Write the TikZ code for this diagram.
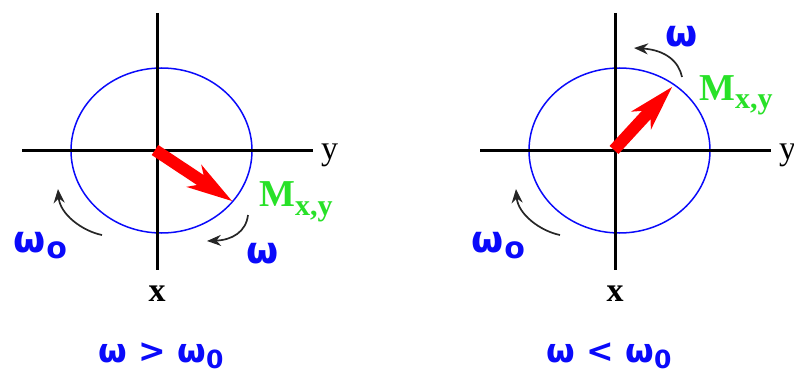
\documentclass[tikz,border=0pt]{standalone}
\usepackage{fontspec}
\setmainfont{Liberation Serif}
\newfontfamily\wfont{DejaVu Sans}
\usetikzlibrary{arrows.meta,calc}
\definecolor{mgreen}{RGB}{40,225,40}
\definecolor{wblue}{RGB}{10,10,250}
\tikzset{
  axis/.style={line width=3pt, black},
  orbit/.style={draw=wblue, line width=1.5pt},
  rot/.style={-{Stealth[length=14pt,width=11pt]}, line width=1.7pt, black!85},
  wlabel/.style={text=wblue, font=\wfont\bfseries\fontsize{37}{40}\selectfont, inner sep=0pt, anchor=base west},
  blabel/.style={text=wblue, font=\wfont\bfseries\fontsize{33}{36}\selectfont, inner sep=0pt, anchor=base west},
  mlabel/.style={text=mgreen, font=\bfseries\fontsize{38}{40}\selectfont, inner sep=0pt, anchor=base west},
  axlabel/.style={font=\fontsize{34}{40}\selectfont, inner sep=0pt},
}
\newcommand{\magarrow}[2]{%
  \fill[red] ($(#1)!6pt!90:(#2)$) -- ($(#2)!38pt!(#1)!6pt!90:(#2)$)
    -- ($(#2)!46pt!(#1)!13.5pt!90:(#2)$) -- (#2)
    -- ($(#2)!46pt!(#1)!13.5pt!-90:(#2)$) -- ($(#2)!38pt!(#1)!6pt!-90:(#2)$)
    -- ($(#1)!6pt!-90:(#2)$) -- cycle;}
\begin{document}
\begin{tikzpicture}[x=1pt, y=-1pt]
\useasboundingbox (0,0) rectangle (794,374);
\clip (0,0) rectangle (794,374);
% ---------- left panel ----------
\coordinate (L-vt) at (157,13);  \coordinate (L-vb) at (157,270);
\coordinate (L-hl) at (22,151);  \coordinate (L-hr) at (313,151);
\coordinate (L-c) at (161.5,150.5);
\draw[orbit] (L-c) ellipse [x radius=90.5pt, y radius=82.5pt];
\draw[axis] (L-vt) -- (L-vb);
\draw[axis] (L-hl) -- (L-hr);
\node[axlabel, anchor=base west] (L-y) at (321,160) {y};
\node[axlabel, anchor=base, font=\bfseries\fontsize{34}{40}\selectfont] (L-x) at (157,301) {x};
\coordinate (L-o) at (155,150); \coordinate (L-t) at (232,201);
\magarrow{L-o}{L-t}
\node[mlabel] (L-m) at (259,206) {M\raisebox{-9pt}{\fontsize{30}{32}\selectfont x,y}};
\coordinate (L-w0s) at (102,235); \coordinate (L-w0e) at (58,189);
\draw[rot] (L-w0s) .. controls (82,231) and (60,214) .. (L-w0e);
\node[wlabel] (L-w0) at (13,252) {ω\hspace{1pt}\raisebox{-6pt}{\fontsize{30}{30}\selectfont o}};
\coordinate (L-ws) at (248,215); \coordinate (L-we) at (207,241);
\draw[rot] (L-ws) .. controls (246,232) and (232,240) .. (L-we);
\node[wlabel] (L-w) at (246,263) {ω};
\node[blabel] (L-cap) at (98,362) {ω > ω\raisebox{-6pt}{\fontsize{25}{26}\selectfont 0}};
% ---------- right panel ----------
\coordinate (R-vt) at (615,13);  \coordinate (R-vb) at (615,270);
\coordinate (R-hl) at (480,151); \coordinate (R-hr) at (771,151);
\coordinate (R-c) at (619.5,150.5);
\draw[orbit] (R-c) ellipse [x radius=90.5pt, y radius=82.5pt];
\draw[axis] (R-vt) -- (R-vb);
\draw[axis] (R-hl) -- (R-hr);
\node[axlabel, anchor=base west] (R-y) at (779,160) {y};
\node[axlabel, anchor=base, font=\bfseries\fontsize{34}{40}\selectfont] (R-x) at (615,301) {x};
\coordinate (R-o) at (614,150); \coordinate (R-t) at (672,87);
\magarrow{R-o}{R-t}
\node[mlabel] (R-m) at (699,101) {M\raisebox{-8pt}{\fontsize{30}{32}\selectfont x,y}};
\coordinate (R-w0s) at (560,235); \coordinate (R-w0e) at (516,189);
\draw[rot] (R-w0s) .. controls (540,231) and (518,214) .. (R-w0e);
\node[wlabel] (R-w0) at (471,252) {ω\hspace{1pt}\raisebox{-6pt}{\fontsize{30}{30}\selectfont o}};
\coordinate (R-ws) at (682,77); \coordinate (R-we) at (634,48);
\draw[rot] (R-ws) .. controls (679,62) and (666,50) .. (R-we);
\node[wlabel] (R-w) at (665,47) {ω};
\node[blabel] (R-cap) at (546,362) {ω < ω\raisebox{-6pt}{\fontsize{25}{26}\selectfont 0}};
\end{tikzpicture}
\end{document}
